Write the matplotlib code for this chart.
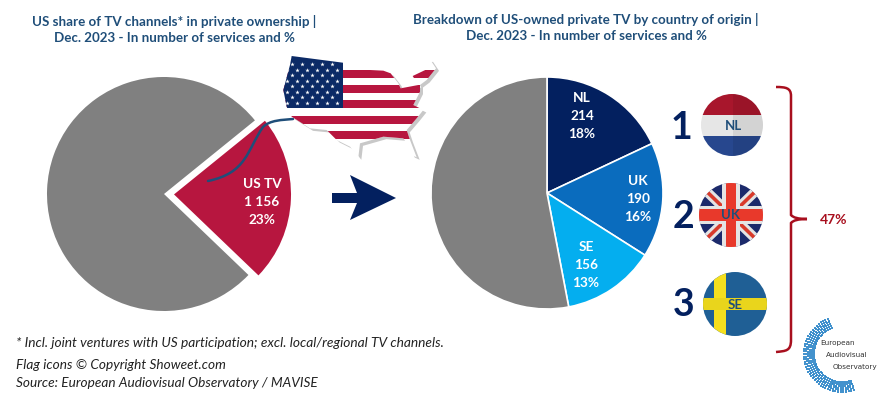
import numpy as np
import matplotlib
matplotlib.use("Agg")
import matplotlib.pyplot as plt
from matplotlib.patches import Circle, Polygon, Rectangle, PathPatch
from matplotlib.path import Path

plt.rcParams['font.family'] = ['Lato', 'DejaVu Sans']

# data
left_labels = ['Other', 'US TV']
left_pct = [77, 23]
us_count = '1 156'
right_labels = ['NL', 'UK', 'SE', 'Other']
right_values = [214, 190, 156]
right_pct = [18, 16, 13, 53]
top3_share = '47%'

GREY = '#808080'
RED = '#B7163F'
NAVY = '#03205F'
TITLE = '#1F4E79'
BRACKET = '#A80F1E'

W, H = 877, 394
fig = plt.figure(figsize=(W / 100, H / 100), dpi=100, facecolor='white')


def pie_axes(cx, cy, r):
    # axes placed in pixel position, pie fills it
    return fig.add_axes([(cx - r) / W, 1 - (cy + r) / H, 2 * r / W, 2 * r / H])


# left pie : US slice pulled out to the right
ax1 = pie_axes(164, 194, 130)
ax1.pie(left_pct, colors=[GREY, RED], startangle=39, counterclock=True,
        explode=[0, 0.077], radius=0.9, frame=True, wedgeprops={'linewidth': 0})
ax1.set_xlim(-1, 1)
ax1.set_ylim(-1, 1)
ax1.axis('off')

# right pie
ax2 = pie_axes(547, 193, 116)
ax2.pie(right_pct, colors=[NAVY, '#0A6CBE', '#04AEEF', GREY], startangle=90,
        counterclock=False, radius=1, frame=True,
        wedgeprops={'linewidth': 1.2, 'edgecolor': 'white'})
ax2.set_xlim(-1, 1)
ax2.set_ylim(-1, 1)
ax2.axis('off')

# everything else goes on an overlay in pixel coords
ov = fig.add_axes([0, 0, 1, 1], facecolor='none')
ov.set_xlim(0, W)
ov.set_ylim(H, 0)
ov.axis('off')

# titles
ov.text(174, 29.5, 'US share of TV channels* in private ownership |\nDec. 2023 - In number of services and %',
        ha='center', va='center', fontsize=9.6, fontweight='bold', color=TITLE, linespacing=1.45)
ov.text(586, 27.5, 'Breakdown of US-owned private TV by country of origin |\nDec. 2023 - In number of services and %',
        ha='center', va='center', fontsize=9.6, fontweight='bold', color=TITLE, linespacing=1.45)

# slice labels
ov.text(262, 202, '%s\n%s\n%d%%' % (left_labels[1], us_count, left_pct[1]), ha='center', va='center',
        color='white', fontsize=9.8, fontweight='bold', linespacing=1.6)
for lab, val, pct, x, y in zip(right_labels[:3], right_values, right_pct[:3], [582, 638, 586], [116, 199, 265]):
    ov.text(x, y, '%s\n%d\n%d%%' % (lab, val, pct), ha='center', va='center',
            color='white', fontsize=9.8, fontweight='bold', linespacing=1.6)

# curve from slice to the map
verts = [(208, 181), (247, 173), (247, 150), (263, 127), (270, 120), (282, 120), (293, 119)]
codes = [Path.MOVETO] + [Path.CURVE4] * 6
ov.add_patch(PathPatch(Path(verts, codes), fc='none', ec=TITLE, lw=1.8, capstyle='round', zorder=3))

# US map, outline
outline = np.array([(65, 48), (218, 68), (300, 90), (340, 92), (362, 100), (385, 130), (392, 145), (445, 135),
                    (428, 108), (470, 88), (468, 60), (480, 58), (498, 85), (470, 120), (450, 135), (450, 155),
                    (430, 195), (460, 210), (440, 235), (410, 270), (420, 300), (440, 352), (425, 345), (410, 310),
                    (400, 295), (340, 290), (270, 310), (265, 352), (240, 320), (200, 300), (170, 270), (120, 265),
                    (65, 230), (50, 200), (40, 150), (60, 75)], dtype=float)
outline = outline / 3 + [270, 40]
ov.add_patch(Polygon(outline + [3, 2.5], fc='#C8C8C8', ec='none', zorder=4))
map_clip = Polygon(outline, fc='white', ec='none', zorder=5)
ov.add_patch(map_clip)
for ytop in [70, 85, 100, 116, 131]:
    s = Rectangle((270, ytop), 180, 7.5, fc=RED, ec='none', zorder=6)
    ov.add_patch(s)
    s.set_clip_path(map_clip)
canton = Rectangle((270, 50), 73, 58, fc='#0B2A66', ec='none', zorder=7)
ov.add_patch(canton)
canton.set_clip_path(map_clip)
sx, sy = [], []
for row, y in enumerate(np.arange(64, 106, 5.5)):
    for x in np.arange(292 if row % 2 == 0 else 287, 342, 10):
        sx.append(x)
        sy.append(y)
ov.scatter(sx, sy, marker='*', s=11, c='white', linewidths=0, zorder=8)

# arrow between the pies
ov.add_patch(Polygon([(332, 193), (357, 193), (350, 175), (396, 198), (350, 220), (357, 203), (332, 203)],
                     fc=NAVY, ec='none', zorder=3))


def disc(cx, cy, r):
    c = Circle((cx, cy), r, fc='none', ec='none', zorder=3)
    ov.add_patch(c)
    return c


def clipped(patch, c):
    ov.add_patch(patch)
    patch.set_clip_path(c)


# NL flag
c = disc(732, 125, 31)
clipped(Rectangle((700, 92), 64, 23, fc='#A8162C', ec='none', zorder=3), c)
clipped(Rectangle((700, 115), 64, 21, fc='#E6E6E6', ec='none', zorder=3), c)
clipped(Rectangle((700, 136), 64, 23, fc='#27478E', ec='none', zorder=3), c)
clipped(Rectangle((733, 92), 32, 66, fc='black', alpha=0.08, ec='none', zorder=4), c)
ov.text(733, 126, 'NL', ha='center', va='center', fontsize=9.5, fontweight='bold', color=TITLE, zorder=6)

# UK flag
c = disc(731, 215, 32)
clipped(Rectangle((698, 182), 66, 66, fc='#1C2A6B', ec='none', zorder=3), c)
for a, b in [((700, 185), (762, 245)), ((762, 185), (700, 245))]:
    l1, = ov.plot([a[0], b[0]], [a[1], b[1]], color='#E4E4E4', lw=7, zorder=3, solid_capstyle='butt')
    l1.set_clip_path(c)
    l2, = ov.plot([a[0], b[0]], [a[1], b[1]], color='#D93A2B', lw=2.6, zorder=3, solid_capstyle='butt')
    l2.set_clip_path(c)
clipped(Rectangle((722, 182), 18, 66, fc='#E4E4E4', ec='none', zorder=3), c)
clipped(Rectangle((698, 206), 66, 18, fc='#E4E4E4', ec='none', zorder=3), c)
clipped(Rectangle((726, 182), 10, 66, fc='#E8392B', ec='none', zorder=3), c)
clipped(Rectangle((698, 209), 66, 12, fc='#E8392B', ec='none', zorder=3), c)
ov.text(731, 215, 'UK', ha='center', va='center', fontsize=9.5, fontweight='bold', color=TITLE, zorder=6)

# SE flag
c = disc(735, 304, 32)
clipped(Rectangle((702, 271), 66, 66, fc='#1F5F95', ec='none', zorder=3), c)
clipped(Rectangle((714, 271), 12, 66, fc='#F5DF1E', ec='none', zorder=3), c)
clipped(Rectangle((702, 298), 66, 12, fc='#E9D51C', ec='none', zorder=3), c)
ov.text(735, 305, 'SE', ha='center', va='center', fontsize=9.5, fontweight='bold', color=TITLE, zorder=6)

# rank numbers
for num, x, y in zip(['1', '2', '3'], [681, 683, 684], [128, 217, 305]):
    ov.text(x, y, num, ha='center', va='center', fontsize=27, fontweight='bold', color=NAVY)

# bracket
bx = [(776, 87), (786, 87), (791, 88), (791, 96), (791, 215), (794, 219), (807, 219),
      (794, 219), (791, 223), (791, 340), (791, 351), (786, 351), (776, 352)]
bc = [Path.MOVETO, Path.CURVE4, Path.CURVE4, Path.CURVE4, Path.LINETO, Path.CURVE3, Path.CURVE3,
      Path.CURVE3, Path.CURVE3, Path.LINETO, Path.CURVE4, Path.CURVE4, Path.CURVE4]
ov.add_patch(PathPatch(Path(bx, bc), fc='none', ec=BRACKET, lw=1.8))
ov.text(834, 219.5, top3_share, ha='center', va='center', fontsize=10, fontweight='bold', color=BRACKET)

# footnotes
ov.text(16, 343, '* Incl. joint ventures with US participation; excl. local/regional TV channels.',
        ha='left', va='center', fontsize=9.9, fontstyle='italic', color='#222222')
ov.text(16, 365, 'Flag icons © Copyright Showeet.com', ha='left', va='center', fontsize=9.8,
        fontstyle='italic', color='#222222')
ov.text(16, 383, 'Source: European Audiovisual Observatory / MAVISE', ha='left', va='center', fontsize=9.8,
        fontstyle='italic', color='#222222')

# logo : rings of small dots
for i, r in enumerate(np.linspace(28, 38, 6)):
    ang = np.radians(np.arange(112, 292, 4))
    ov.scatter(842 + r * np.cos(ang), 354 - r * np.sin(ang), s=1.6 + i * 0.5, marker='s',
               c='#2E86C8', alpha=0.9, linewidths=0)
ov.text(820, 343, 'European', ha='left', va='center', fontsize=5.2, color='#333333', family='DejaVu Sans')
ov.text(826, 355, 'Audiovisual', ha='left', va='center', fontsize=5.2, color='#333333', family='DejaVu Sans')
ov.text(833, 367, 'Observatory', ha='left', va='center', fontsize=5.2, color='#333333', family='DejaVu Sans')

fig.savefig('out.png', dpi=100)
